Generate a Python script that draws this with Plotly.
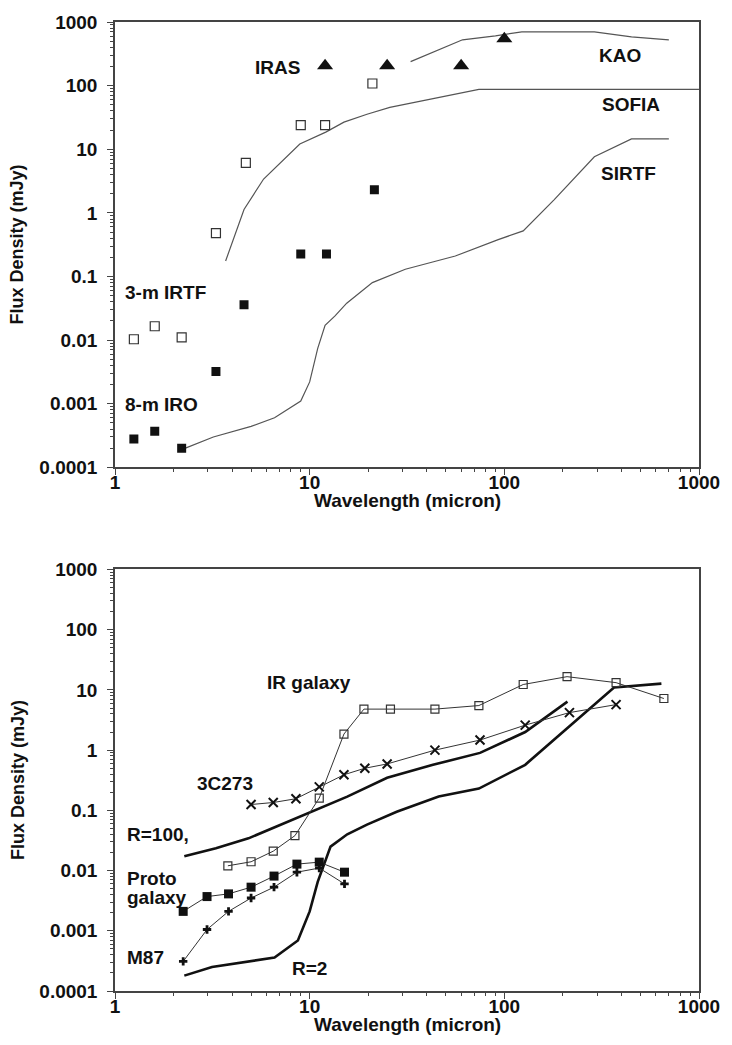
import plotly.graph_objects as go

# ---------------- Top panel data ----------------
irtf_x = [1.25, 1.6, 2.2, 3.3, 4.7, 9.0, 12.0, 21.0]
irtf_y = [0.0103, 0.0165, 0.011, 0.48, 6.1, 24, 24, 108]
iro_x = [1.25, 1.6, 2.2, 3.3, 4.6, 9.0, 12.2, 21.5]
iro_y = [0.00028, 0.00037, 0.0002, 0.0032, 0.036, 0.225, 0.225, 2.3]
iras_x = [12, 25, 60, 100]
iras_y = [205, 205, 205, 545]
kao_x = [33, 61, 90, 123, 290, 450, 700]
kao_y = [238, 525, 605, 700, 700, 585, 525]
sofia_x = [3.7, 4.6, 5.8, 8.9, 12.1, 15, 19.7, 25.8, 74, 1000]
sofia_y = [0.175, 1.13, 3.4, 12.1, 18.6, 26.7, 35.5, 45.6, 87, 87]
sirtf_x = [2.3, 3.2, 5.0, 6.6, 9.0, 10, 11, 12, 13.5, 15.5, 21, 31, 56, 93, 125, 180, 290, 450, 700]
sirtf_y = [0.0002, 0.0003, 0.00044, 0.0006, 0.0011, 0.0022, 0.0074, 0.017, 0.024, 0.038,
           0.08, 0.13, 0.21, 0.38, 0.52, 1.6, 7.6, 14.5, 14.5]

# ---------------- Bottom panel data ----------------
irgal_x = [3.8, 5.0, 6.5, 8.4, 11.2, 15, 19, 26, 44, 74, 125, 210, 375, 660]
irgal_y = [0.012, 0.014, 0.021, 0.038, 0.16, 1.85, 4.8, 4.8, 4.8, 5.5, 12.3, 16.6, 13.2, 7.2]
q3c273_x = [5.0, 6.5, 8.5, 11.2, 15, 19.2, 25, 44, 75, 128, 216, 375]
q3c273_y = [0.125, 0.135, 0.156, 0.245, 0.39, 0.5, 0.59, 1.0, 1.47, 2.6, 4.2, 5.7]
proto_x = [2.24, 2.97, 3.83, 5.0, 6.56, 8.6, 11.2, 15.1]
proto_y = [0.0021, 0.0037, 0.0041, 0.0053, 0.0081, 0.0128, 0.0138, 0.0094]
m87_x = [2.24, 2.97, 3.83, 5.0, 6.56, 8.6, 11.2, 15.1]
m87_y = [0.00031, 0.00105, 0.0021, 0.0035, 0.0053, 0.0094, 0.011, 0.006]
r100_x = [2.27, 3.3, 4.85, 7.1, 9.8, 15.6, 25, 43, 75, 128, 211]
r100_y = [0.0173, 0.0235, 0.0343, 0.058, 0.089, 0.169, 0.347, 0.57, 0.9, 2.0, 6.4]
r2_x = [2.27, 3.15, 6.6, 8.7, 10, 11, 12.8, 15.6, 19.7, 28, 46, 74, 128, 366, 641]
r2_y = [0.00018, 0.00025, 0.00036, 0.00069, 0.0021, 0.0065, 0.025, 0.04, 0.058, 0.095,
        0.17, 0.23, 0.57, 11, 12.7]

# ---------------- Axis ticks ----------------
x_tickvals = [1, 10, 100, 1000]
x_ticktext = ["1", "10", "100", "1000"]
y_tickvals = [0.0001, 0.001, 0.01, 0.1, 1, 10, 100, 1000]
y_ticktext = ["0.0001", "0.001", "0.01", "0.1", "1", "10", "100", "1000"]
x_minor = [m * 10 ** e for e in range(0, 3) for m in range(2, 10)]
y_minor = [m * 10 ** e for e in range(-4, 3) for m in range(2, 10)]

W, H = 732, 1045
ML, MR, MT, MB = 115, 25, 14, 54
PW, PH = W - ML - MR, H - MT - MB


def px(xp):
    return (xp - ML) / PW


def py(yp):
    return (H - MB - yp) / PH


FONT = "Liberation Sans, Arial, Helvetica, sans-serif"
INK = "#111111"
LINE = "#555555"
FS = 19

fig = go.Figure()

# top panel
fig.add_trace(go.Scatter(x=kao_x, y=kao_y, mode="lines", line=dict(color=LINE, width=1.2),
                         xaxis="x", yaxis="y"))
fig.add_trace(go.Scatter(x=sofia_x, y=sofia_y, mode="lines", line=dict(color=LINE, width=1.2),
                         xaxis="x", yaxis="y"))
fig.add_trace(go.Scatter(x=sirtf_x, y=sirtf_y, mode="lines", line=dict(color=LINE, width=1.2),
                         xaxis="x", yaxis="y"))
fig.add_trace(go.Scatter(x=irtf_x, y=irtf_y, mode="markers",
                         marker=dict(symbol="square-open", size=9, color="#333", line=dict(width=1.2)),
                         xaxis="x", yaxis="y"))
fig.add_trace(go.Scatter(x=iro_x, y=iro_y, mode="markers",
                         marker=dict(symbol="square", size=9, color=INK),
                         xaxis="x", yaxis="y"))
fig.add_trace(go.Scatter(x=iras_x, y=iras_y, mode="markers",
                         marker=dict(symbol="triangle-up", size=14, color=INK),
                         xaxis="x", yaxis="y"))

# bottom panel
fig.add_trace(go.Scatter(x=r100_x, y=r100_y, mode="lines", line=dict(color=INK, width=2.6),
                         xaxis="x2", yaxis="y2"))
fig.add_trace(go.Scatter(x=r2_x, y=r2_y, mode="lines", line=dict(color=INK, width=2.6),
                         xaxis="x2", yaxis="y2"))
fig.add_trace(go.Scatter(x=irgal_x, y=irgal_y, mode="lines+markers", line=dict(color="#333", width=1),
                         marker=dict(symbol="square-open", size=8, color="#333", line=dict(width=1.2)),
                         xaxis="x2", yaxis="y2"))
fig.add_trace(go.Scatter(x=q3c273_x, y=q3c273_y, mode="lines+markers", line=dict(color="#333", width=1),
                         marker=dict(symbol="x-thin", size=9, color=INK, line=dict(width=2, color=INK)),
                         xaxis="x2", yaxis="y2"))
fig.add_trace(go.Scatter(x=proto_x, y=proto_y, mode="lines+markers", line=dict(color="#333", width=1),
                         marker=dict(symbol="square", size=9, color=INK),
                         xaxis="x2", yaxis="y2"))
fig.add_trace(go.Scatter(x=m87_x, y=m87_y, mode="lines+markers", line=dict(color="#333", width=1),
                         marker=dict(symbol="cross", size=7, color=INK),
                         xaxis="x2", yaxis="y2"))

tickfont = dict(family=FONT, size=FS, color=INK, weight="bold")
axis_common = dict(
    type="log", showline=True, linecolor="#444", linewidth=1.5, mirror=True,
    ticks="outside", ticklen=6, tickwidth=1.3, tickcolor="#444",
    showgrid=False, zeroline=False, tickfont=tickfont,
)
xaxis_common = dict(axis_common, range=[0, 3], tickmode="array", tickvals=x_tickvals, ticktext=x_ticktext,
                    ticklabelstandoff=-9,
                    minor=dict(tickmode="array", tickvals=x_minor, ticks="outside", ticklen=3,
                               tickcolor="#444", tickwidth=1, showgrid=False))
yaxis_common = dict(axis_common, range=[-4, 3], tickmode="array", tickvals=y_tickvals, ticktext=y_ticktext,
                    ticklabelstandoff=6,
                    minor=dict(tickmode="array", tickvals=y_minor, ticks="outside", ticklen=3,
                               tickcolor="#444", tickwidth=1, showgrid=False))

top_bottom = py(463)
bot_top = py(566)

fig.update_layout(
    width=W, height=H,
    margin=dict(l=ML, r=MR, t=MT, b=MB),
    paper_bgcolor="white", plot_bgcolor="white",
    showlegend=False,
    font=dict(family=FONT, size=FS, color=INK),
    xaxis=dict(xaxis_common, domain=[0, 1], anchor="y"),
    yaxis=dict(yaxis_common, domain=[top_bottom, 1], anchor="x"),
    xaxis2=dict(xaxis_common, domain=[0, 1], anchor="y2"),
    yaxis2=dict(yaxis_common, domain=[0, bot_top], anchor="x2"),
)


def label(text, xp, yp, xanchor="center", size=FS, angle=0):
    fig.add_annotation(text=text, x=px(xp), y=py(yp), xref="paper", yref="paper",
                       xanchor=xanchor, yanchor="middle", showarrow=False, textangle=angle,
                       font=dict(family=FONT, size=size, color=INK, weight="bold"))


# axis titles
label("Flux Density (mJy)", 16, 238, angle=-90, size=18)
label("Flux Density (mJy)", 16, 778, angle=-90, size=18)
label("Wavelength (micron)", 411, 496)
label("Wavelength (micron)", 411, 1025)

# top panel labels
label("IRAS", 280, 60)
label("KAO", 627, 48)
label("SOFIA", 638, 97)
label("SIRTF", 636, 167)
label("3-m IRTF", 123, 287, xanchor="left")
label("8-m IRO", 123, 400, xanchor="left")

# bottom panel labels
label("IR galaxy", 312, 680)
label("3C273", 227, 782)
label("R=100,", 125, 833, xanchor="left")
label("Proto", 125, 878, xanchor="left")
label("galaxy", 125, 897, xanchor="left")
label("M87", 125, 957, xanchor="left")
label("R=2", 312, 968)

fig.write_html("out.html")
